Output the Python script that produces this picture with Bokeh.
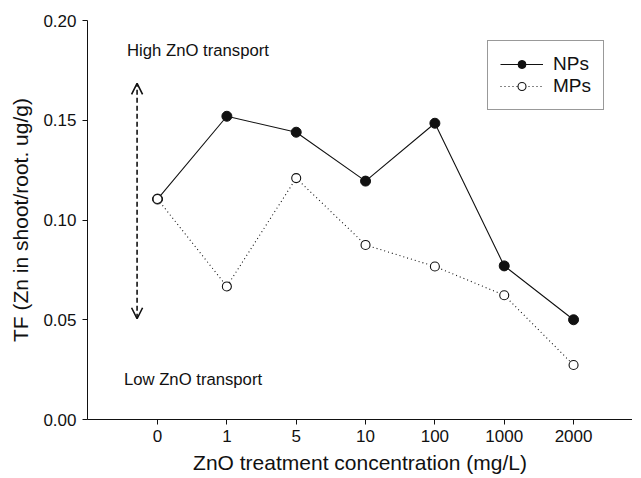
from bokeh.plotting import figure
from bokeh.models import (ColumnDataSource, FixedTicker, Arrow, OpenHead, Legend,
                          LegendItem, Range1d, NumeralTickFormatter)
from bokeh.core.properties import value
from bokeh.embed import file_html
from bokeh.resources import INLINE

categories = ["0", "1", "5", "10", "100", "1000", "2000"]
nps = [0.1105, 0.152, 0.144, 0.1195, 0.1485, 0.077, 0.050]
mps = [0.1105, 0.0667, 0.121, 0.0875, 0.0767, 0.0623, 0.0273]
y_ticks = [0.0, 0.05, 0.10, 0.15, 0.20]
xpos = list(range(len(categories)))

FONT = "Liberation Sans"

p = figure(frame_width=545, frame_height=399, output_backend="svg",
           toolbar_location=None,
           x_range=Range1d(-1.01, 6.85), y_range=Range1d(0, 0.20),
           min_border_left=87, min_border_top=20, min_border_bottom=10,
           min_border_right=0)
p.outline_line_color = None
p.xgrid.visible = False
p.ygrid.visible = False

src = ColumnDataSource(dict(x=xpos, nps=nps, mps=mps))

np_line = p.line("x", "nps", source=src, line_color="#111111", line_width=1.1)
np_pts = p.scatter("x", "nps", source=src, size=10, fill_color="#111111",
                   line_color="#111111")
mp_line = p.line("x", "mps", source=src, line_color="#111111", line_width=1.1,
                 line_dash="1 3")
mp_pts = p.scatter("x", "mps", source=src, size=9, fill_color="white",
                   line_color="#111111", line_width=1.1)

# double-headed dashed arrow
p.add_layout(Arrow(x_start=-0.295, y_start=0.0505, x_end=-0.295, y_end=0.1685,
                   line_dash="5 3", line_width=1.6, line_color="#111111",
                   start=OpenHead(size=11, line_width=1.6, line_color="#111111"),
                   end=OpenHead(size=11, line_width=1.6, line_color="#111111")))

p.text(x=[-0.44], y=[0.1850], text=["High ZnO transport"], text_font=value(FONT),
       text_font_size="16.7px", text_baseline="middle", text_align="left",
       text_color="#111111")
p.text(x=[-0.485], y=[0.0200], text=["Low ZnO transport"], text_font=value(FONT),
       text_font_size="16.7px", text_baseline="middle", text_align="left",
       text_color="#111111")

legend = Legend(items=[LegendItem(label="NPs", renderers=[np_line, np_pts]),
                       LegendItem(label="MPs", renderers=[mp_line, mp_pts])],
                location=(400, 309), padding=12, spacing=0, glyph_width=43,
                glyph_height=20, label_height=20, label_standoff=10,
                label_text_font=FONT, label_text_font_size="19px",
                label_text_color="#111111", border_line_color="#333333",
                border_line_width=1.5, background_fill_color="white",
                background_fill_alpha=1.0, margin=0)
p.add_layout(legend, "center")

p.xaxis.ticker = FixedTicker(ticks=xpos)
p.xaxis.major_label_overrides = {i: c for i, c in enumerate(categories)}
p.yaxis.ticker = FixedTicker(ticks=y_ticks)
p.yaxis.formatter = NumeralTickFormatter(format="0.00")

for ax in (p.xaxis, p.yaxis):
    ax.minor_tick_line_color = None
    ax.major_tick_in = 0
    ax.major_tick_out = 5
    ax.axis_line_color = "#111111"
    ax.major_tick_line_color = "#111111"
    ax.major_label_text_font = FONT
    ax.major_label_text_font_size = "17px"
    ax.major_label_text_color = "#111111"
    ax.axis_label_text_font = FONT
    ax.axis_label_text_font_size = "21px"
    ax.axis_label_text_font_style = "normal"
    ax.axis_label_text_color = "#111111"

p.xaxis.axis_label = "ZnO treatment concentration (mg/L)"
p.yaxis.axis_label = "TF (Zn in shoot/root. ug/g)"
p.xaxis.major_label_standoff = 5
p.yaxis.major_label_standoff = 6
p.xaxis.axis_label_standoff = 6
p.yaxis.axis_label_standoff = 8

open("out.html", "w").write(file_html(p, INLINE))
